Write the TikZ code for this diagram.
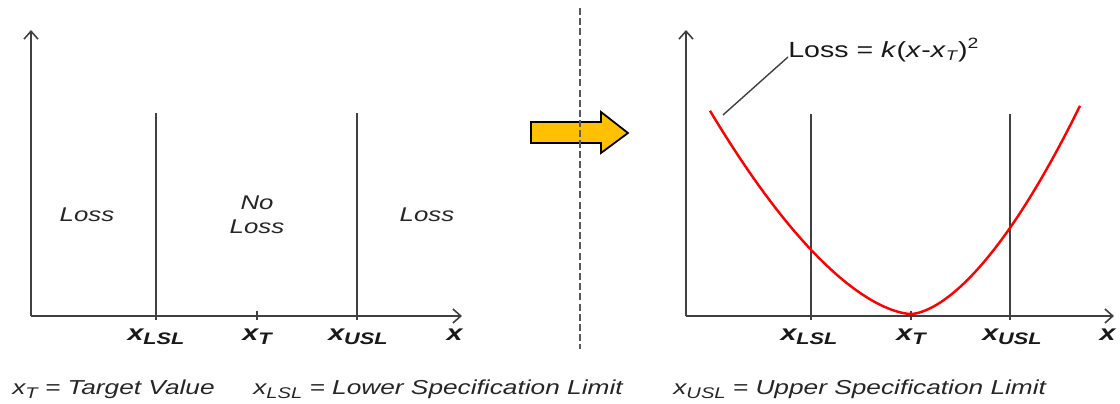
\documentclass[tikz,border=0pt]{standalone}
\usepackage{fontspec}
\setmainfont[FakeStretch=1.3]{Liberation Sans}
\usepackage{xcolor}
\usepackage{tikz}
\usetikzlibrary{arrows.meta, positioning}

\definecolor{axisgray}{HTML}{404040}
\definecolor{arrowyellow}{HTML}{FFC000}

\newcommand{\axlab}[1]{\textbf{\textit{x\raisebox{-2.8pt}{\fontsize{9.5}{9.5}\selectfont #1}}}}
\newcommand{\caplab}[1]{\textit{x\raisebox{-2.5pt}{\fontsize{8.8}{8.8}\selectfont #1}}}

\begin{document}
\begin{tikzpicture}[x=0.02cm,y=-0.02cm,
    axis/.style={draw=axisgray,line width=0.9pt,-{Straight Barb[length=4.5pt,width=8pt]}},
    speclim/.style={draw=axisgray,line width=0.8pt},
    ticklab/.style={font=\fontsize{12.5}{14}\selectfont,text=black!90,inner sep=0pt,anchor=base},
    zonelab/.style={font=\fontsize{11.3}{13.6}\selectfont\itshape,text=black!85,inner sep=0pt,align=center},
    caption/.style={font=\fontsize{11.5}{13}\selectfont\itshape,text=black!85,inner sep=0pt,anchor=base west},
    lossfun/.style={draw=red,line width=1.4pt},
    leader/.style={draw=axisgray,line width=0.8pt},
    divider/.style={draw=black!65,line width=0.8pt,dash pattern=on 4pt off 1.8pt},
    bigarrow/.style={draw=black,fill=arrowyellow,line width=1pt,line join=miter}]
    \useasboundingbox (0,0) rectangle (1120,403);

    % left: step loss
    \coordinate (o1) at (31,316);
    \coordinate (ytop1) at (31,30);
    \coordinate (xend1) at (462,316);
    \draw[axis] (o1) -- (ytop1);
    \draw[axis] (o1) -- (xend1);

    \node[ticklab] (lsl1) at (156,340) {\axlab{LSL}};
    \node[ticklab] (t1) at (257,340) {\axlab{T}};
    \node[ticklab] (usl1) at (358,340) {\axlab{USL}};
    \node[ticklab] (xl1) at (455,340) {\textbf{\textit{x}}};
    \draw[speclim] (156,113) -- (156,320);
    \draw[speclim] (357,113) -- (357,320);
    \draw[speclim] (257,311) -- (257,320);

    \node[zonelab] (lossl) at (87,215) {Loss};
    \node[zonelab] (noloss) at (257,215) {No\\Loss};
    \node[zonelab] (lossr) at (427,215) {Loss};

    % arrow and divider
    \draw[bigarrow] (531,122) -- (601,122) -- (601,112) -- (628,133) -- (601,153) -- (601,143) -- (531,143) -- cycle;
    \coordinate (divtop) at (580,8);
    \coordinate (divbot) at (580,349);
    \draw[divider] (divtop) -- (divbot);

    % right: quadratic loss
    \coordinate (o2) at (686,316);
    \coordinate (ytop2) at (686,30);
    \coordinate (xend2) at (1114,316);
    \draw[axis] (o2) -- (ytop2);
    \draw[axis] (o2) -- (xend2);

    \node[ticklab] (lsl2) at (809,340) {\axlab{LSL}};
    \node[ticklab] (t2) at (911,340) {\axlab{T}};
    \node[ticklab] (usl2) at (1012,340) {\axlab{USL}};
    \node[ticklab] (xl2) at (1108,340) {\textbf{\textit{x}}};
    \draw[speclim] (811,114) -- (811,320);
    \draw[speclim] (1010,114) -- (1010,320);
    \draw[speclim] (911,311) -- (911,320);

    \draw[lossfun] plot[domain=201:0.01,samples=60] ({911-\x},{314-0.0322*\x^1.65})
        -- plot[domain=0.01:169,samples=60] ({911+\x},{314-0.0439*\x^1.65});

    \node[font=\fontsize{12.5}{14}\selectfont,text=black!90,inner sep=0pt,anchor=base west] (lossfml) at (788,57)
        {Loss = \textit{k}(\textit{x}-\textit{x}\raisebox{-2pt}{\fontsize{8}{8}\selectfont\textit{T}})\raisebox{5pt}{\fontsize{8.5}{8.5}\selectfont 2}};
    \coordinate (lead) at (723,115);
    \draw[leader] (lossfml.base west) -- (lead);

    % definitions
    \node[caption] (capt) at (12,394) {\caplab{T} = Target Value};
    \node[caption] (caplsl) at (253,394) {\caplab{LSL} = Lower Specification Limit};
    \node[caption] (capusl) at (673,394) {\caplab{USL} = Upper Specification Limit};
\end{tikzpicture}
\end{document}
